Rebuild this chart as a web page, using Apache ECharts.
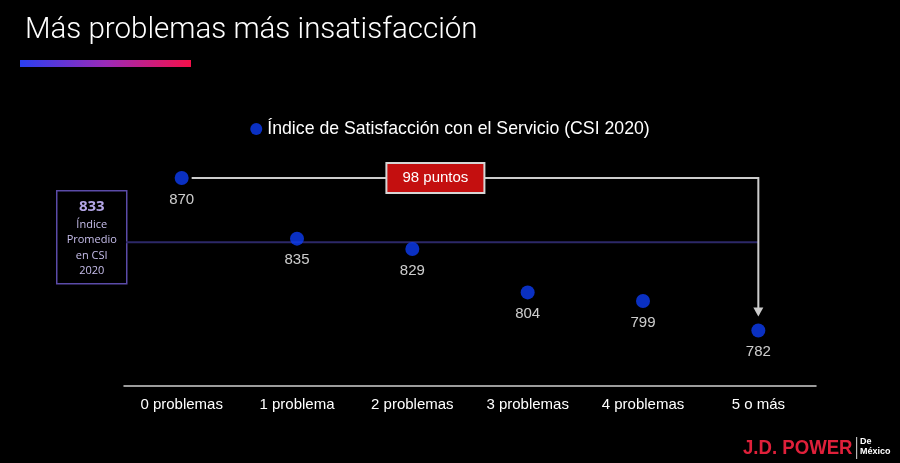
<!DOCTYPE html>
<html>
<head>
<meta charset="utf-8">
<script src="https://cdn.jsdelivr.net/npm/echarts@6/dist/echarts.min.js"></script>
<style>html,body{margin:0;padding:0;background:#000;}#chart{width:900px;height:463px;}</style>
</head>
<body>
<div id="chart"></div>
<script>
const categories = ['0 problemas', '1 problema', '2 problemas', '3 problemas', '4 problemas', '5 o más'];
const csiValues = [870, 835, 829, 804, 799, 782];
const averageCSI = 833;
const gapLabel = '98 puntos';
const seriesName = 'Índice de Satisfacción con el Servicio (CSI 2020)';
const avgBoxLines = ['Índice', 'Promedio', 'en CSI', '2020'];

const chart = echarts.init(document.getElementById('chart'));
const FONT = 'Liberation Sans, Arial, sans-serif';

const option = {
  backgroundColor: '#000000',
  animation: false,
  title: {
    text: 'Más problemas más insatisfacción',
    left: 20, top: 11,
    textStyle: { color: '#ffffff', fontSize: 29.5, fontWeight: 300, fontFamily: 'Roboto, Liberation Sans, sans-serif' }
  },
  legend: {
    data: [{ name: seriesName, icon: 'circle' }],
    top: 115, left: 'center',
    itemWidth: 12, itemHeight: 12, itemGap: 3,
    textStyle: { color: '#ffffff', fontSize: 17.7, fontFamily: FONT }
  },
  grid: { left: 124, right: 84, top: 126, bottom: 77 },
  xAxis: {
    type: 'category',
    data: categories,
    axisLine: { lineStyle: { color: '#d0d0d0', width: 1.5 } },
    axisTick: { show: false },
    axisLabel: { color: '#ffffff', fontSize: 15, margin: 11, fontFamily: FONT },
    splitLine: { show: false }
  },
  yAxis: { type: 'value', min: 750, max: 900, show: false, splitLine: { show: false } },
  graphic: [
    {
      type: 'rect', left: 20, top: 60, shape: { width: 171, height: 7 },
      style: { fill: new echarts.graphic.LinearGradient(0, 0, 1, 0, [
        { offset: 0, color: '#2a3ff0' }, { offset: 0.5, color: '#9a2ab8' }, { offset: 1, color: '#f5104a' }]) }
    },
    {
      type: 'group', left: 56, top: 190,
      children: [
        { type: 'rect', shape: { x: 0, y: 0, width: 70, height: 93 },
          style: { fill: '#000000', stroke: '#5b4ba8', lineWidth: 1.5 } },
        { type: 'text', x: 35, y: 16, style: { text: String(averageCSI), fill: '#b4a6e6',
          font: 'bold 15px "Open Sans", sans-serif', align: 'center', verticalAlign: 'middle' } },
        ...avgBoxLines.map((t, i) => ({ type: 'text', x: 35, y: 34 + i * 15.5,
          style: { text: t, fill: '#c6bdea', font: '11px "Open Sans", sans-serif', align: 'center', verticalAlign: 'middle' } }))
      ]
    },
    {
      type: 'text', x: 743, y: 448, scaleX: 0.93,
      style: { text: 'J.D. POWER', fill: '#e0203a', font: 'bold 20px "Liberation Sans", sans-serif', verticalAlign: 'middle' }
    },
    { type: 'rect', shape: { x: 856, y: 437, width: 1.2, height: 22 }, style: { fill: '#bbbbbb' } },
    { type: 'text', x: 860, y: 442, style: { text: 'De', fill: '#ffffff', font: 'bold 9px "Liberation Sans", sans-serif', verticalAlign: 'middle' } },
    { type: 'text', x: 860, y: 452, style: { text: 'México', fill: '#ffffff', font: 'bold 9px "Liberation Sans", sans-serif', verticalAlign: 'middle' } }
  ],
  series: [
    {
      type: 'custom',
      name: 'avgLine',
      silent: true,
      z: 1,
      data: [[0, averageCSI]],
      renderItem: function (params, api) {
        const y = api.coord([0, averageCSI])[1];
        const xEnd = api.coord([categories.length - 1, averageCSI])[0];
        return { type: 'line', shape: { x1: params.coordSys.x + 2, y1: y, x2: xEnd, y2: y },
          style: { stroke: '#2c2868', lineWidth: 2 } };
      }
    },
    {
      type: 'custom',
      name: 'bracket',
      silent: true,
      z: 3,
      data: [[0, csiValues[0]]],
      renderItem: function (params, api) {
        const last = categories.length - 1;
        const p0 = api.coord([0, csiValues[0]]);
        const p1 = api.coord([last, csiValues[0]]);
        const p2 = api.coord([last, csiValues[last]]);
        const yArrow = p2[1] - 14;
        const bx = p0[0] + (p1[0] - p0[0]) * 0.44;
        return { type: 'group', children: [
          { type: 'polyline', shape: { points: [[p0[0] + 10, p0[1]], [p1[0], p1[1]], [p1[0], yArrow - 8]] },
            style: { stroke: '#cccccc', lineWidth: 2, fill: null } },
          { type: 'polygon', shape: { points: [[p1[0] - 5, yArrow - 9], [p1[0] + 5, yArrow - 9], [p1[0], yArrow]] },
            style: { fill: '#cccccc' } },
          { type: 'rect', shape: { x: bx - 49, y: p0[1] - 15, width: 98, height: 30 },
            style: { fill: '#c40f0f', stroke: '#d6d6d6', lineWidth: 2 } },
          { type: 'text', x: bx, y: p0[1], style: { text: gapLabel, fill: '#ffffff',
            font: '15px ' + FONT, align: 'center', verticalAlign: 'middle' } }
        ] };
      }
    },
    {
      type: 'scatter',
      name: seriesName,
      data: csiValues,
      z: 5,
      symbol: 'circle',
      symbolSize: 14,
      itemStyle: { color: '#0c3cf2' },
      label: { show: true, position: 'bottom', distance: 7, color: '#ffffff', fontSize: 15, fontFamily: FONT }
    }
  ]
};
chart.setOption(option);
</script>
</body>
</html>
